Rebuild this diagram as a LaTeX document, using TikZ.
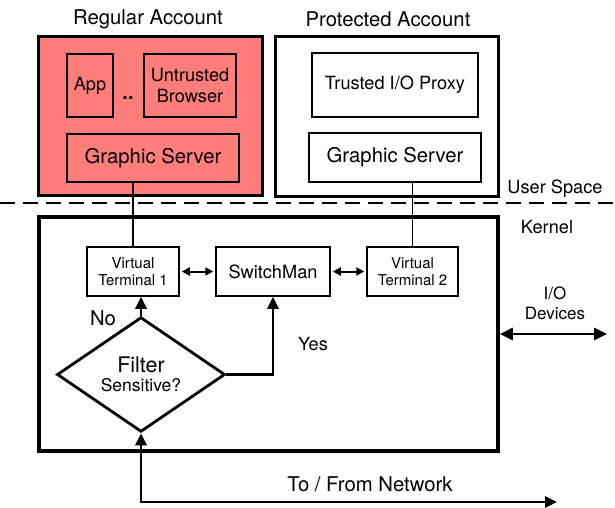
\documentclass[tikz,border=0pt]{standalone}
\usepackage{fontspec}
\setmainfont{TeX Gyre Heros}
\usetikzlibrary{arrows.meta,shapes.geometric}
\definecolor{salmon}{RGB}{255,126,121}
\begin{document}
\begin{tikzpicture}[x=1pt,y=-1pt,
  bx/.style={draw,line width=1.5pt,inner sep=0pt,align=center},
  outer/.style={draw,line width=3pt,inner sep=0pt},
  big/.style={font=\fontsize{20.3}{23}\selectfont},
  mid/.style={font=\fontsize{18.2}{21}\selectfont},
  small/.style={font=\fontsize{15}{17.5}\selectfont},
  conn/.style={line width=1.2pt},
  arr/.style={line width=2.8pt,-{Triangle[length=12pt,width=11pt]}},
  dblarr/.style={line width=2pt,{Triangle[length=8pt,width=8pt]}-{Triangle[length=8pt,width=8pt]},shorten <=2pt,shorten >=2pt},
  dblarrbig/.style={line width=2.8pt,{Triangle[length=13pt,width=12pt]}-{Triangle[length=13pt,width=12pt]}},
  netarr/.style={line width=2.8pt,{Triangle[length=12pt,width=11pt]}-{Triangle[length=12pt,width=11pt]}},
  lbl/.style={inner sep=0pt}]
\useasboundingbox (0,0) rectangle (615,508);
% user space
\node[outer,fill=salmon,minimum width=224pt,minimum height=159pt] (ra) at (150,116) {};
\node[outer,minimum width=223pt,minimum height=159pt] (pa) at (386.5,116.5) {};
\node[lbl,big] (ralbl) at (148,19) {Regular Account};
\node[lbl,big] (palbl) at (388,19) {Protected Account};
\node[bx,mid,minimum width=46pt,minimum height=63pt] (app) at (90,85.5) {App};
\node[bx,mid,minimum width=92pt,minimum height=63pt] (ub) at (190,85.5) {Untrusted\\Browser};
\node[lbl,font=\fontsize{20}{22}\selectfont\bfseries] (dots) at (128,98) {..};
\node[bx,big,minimum width=172pt,minimum height=48pt] (gsl) at (153,158) {Graphic Server};
\node[bx,mid,minimum width=166pt,minimum height=64pt] (tp) at (395,85) {Trusted I/O Proxy};
\node[bx,big,minimum width=172pt,minimum height=49pt] (gsr) at (395,157.5) {Graphic Server};
% separator
\coordinate (dl) at (0,203);
\coordinate (dr) at (615,203);
\draw[line width=2.5pt,dash pattern=on 15pt off 8pt] (dl) -- (dr);
\node[lbl,mid] (us) at (555,189) {User Space};
\node[lbl,mid] (kl) at (547,227) {Kernel};
% kernel
\node[outer,line width=3.6pt,minimum width=459pt,minimum height=234pt] (kern) at (268.5,334) {};
\node[bx,small,minimum width=92pt,minimum height=49pt] (vt1) at (133,271.5) {Virtual\\Terminal 1};
\node[bx,mid,minimum width=114pt,minimum height=49pt] (sw) at (273,271.5) {SwitchMan};
\node[bx,small,minimum width=91pt,minimum height=49pt] (vt2) at (412.5,271.5) {Virtual\\Terminal 2};
\node[draw,diamond,line width=2.8pt,inner sep=0pt,minimum width=168pt,minimum height=97pt,align=center] (dia) at (141,374.5)
  {{\fontsize{21.5}{23}\selectfont Filter}\\[4pt]{\fontsize{17.5}{19}\selectfont Sensitive?}};
\node[lbl,big] (no) at (103,318) {No};
\node[lbl,mid] (yes) at (313,344) {Yes};
\node[lbl,big] (net) at (370,484) {To / From Network};
\node[lbl,font=\fontsize{17}{20}\selectfont,align=center] (io) at (555,303) {I/O\\Devices};
% connectors
\draw[conn] (gsl.south -| vt1.north) -- (vt1.north);
\draw[conn] (vt2.north |- gsr.south) -- (vt2.north);
\draw[dblarr] (vt1.east) -- (sw.west);
\draw[dblarr] (sw.east) -- (vt2.west);
\draw[arr] (dia.north) -- (vt1.south -| dia.north);
\draw[arr] (dia.east) -| (sw.south);
\coordinate (corner) at (141,502);
\coordinate (netend) at (557,502);
\draw[netarr,line join=miter] (dia.south) -- (corner) -- (netend);
\coordinate (ioend) at (607,334);
\draw[dblarrbig] (kern.east) -- (ioend);
\end{tikzpicture}
\end{document}
